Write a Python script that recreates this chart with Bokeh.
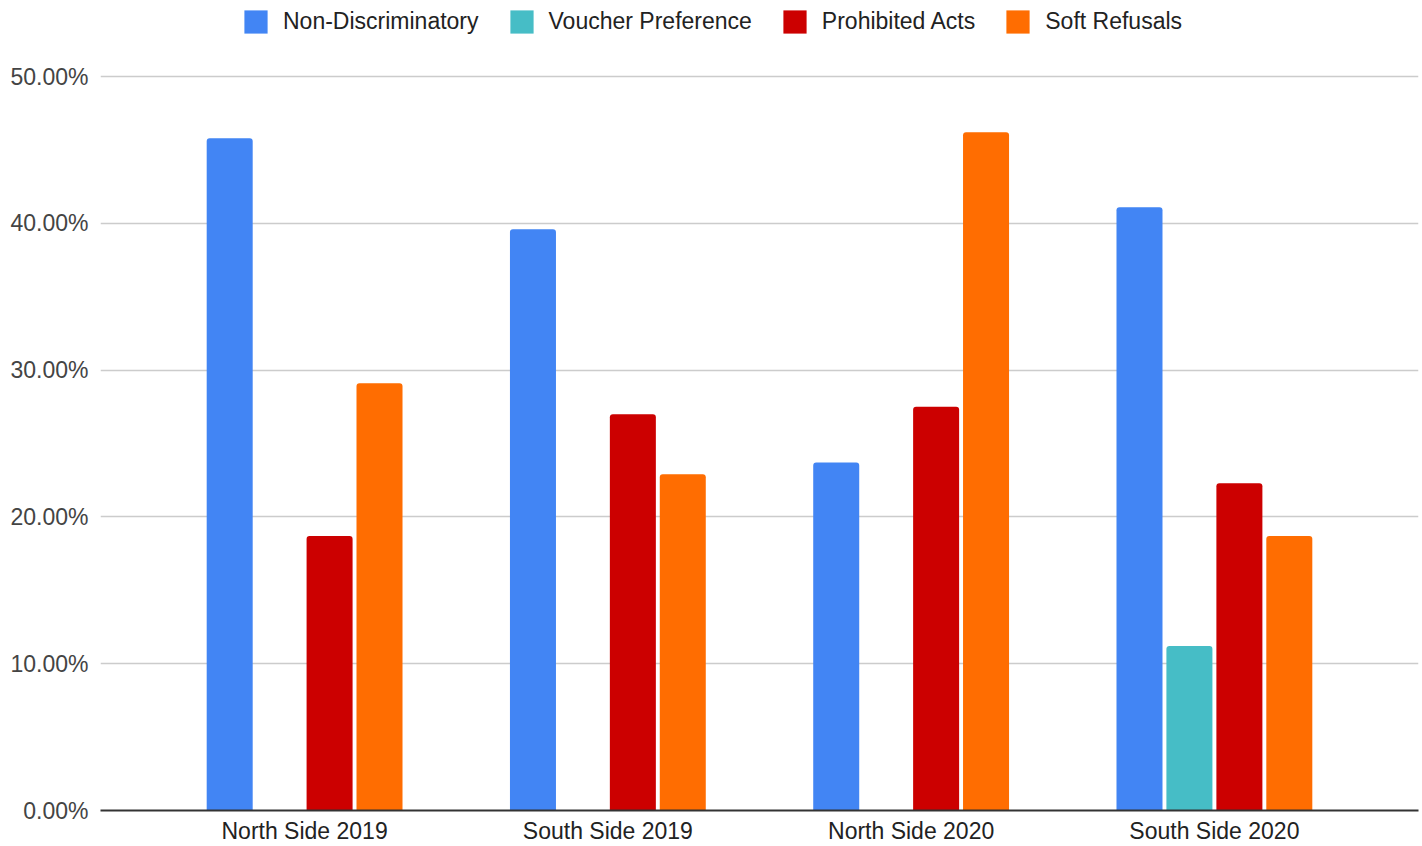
from bokeh.plotting import figure
from bokeh.models import (ColumnDataSource, FactorRange, Range1d, FixedTicker,
                          PrintfTickFormatter, Legend, LegendItem)
from bokeh.transform import dodge
from bokeh.embed import file_html
from bokeh.resources import INLINE

categories = ["North Side 2019", "South Side 2019", "North Side 2020", "South Side 2020"]
series = ["Non-Discriminatory", "Voucher Preference", "Prohibited Acts", "Soft Refusals"]
non_discriminatory = [45.8, 39.6, 23.7, 41.1]
voucher_preference = [0.0, 0.0, 0.0, 11.2]
prohibited_acts = [18.7, 27.0, 27.5, 22.3]
soft_refusals = [29.1, 22.9, 46.2, 18.7]
y_ticks = [0, 10, 20, 30, 40, 50]

colors = ["#4285F4", "#46BDC6", "#CC0000", "#FF6D01"]
offsets = [-0.247, -0.0824, 0.0824, 0.247]
FONT = "Liberation Sans"

source = ColumnDataSource(dict(
    cat=categories,
    s0=non_discriminatory,
    s1=voucher_preference,
    s2=prohibited_acts,
    s3=soft_refusals,
))

# frame spans the whole height above the x axis; the top band holds the legend
x_range = FactorRange(factors=categories, range_padding=0.173,
                      range_padding_units="absolute")
p = figure(width=1422, height=846, x_range=x_range, y_range=Range1d(0, 50 * 810 / 734),
           output_backend="svg", toolbar_location=None,
           min_border_left=100, min_border_right=4, min_border_top=0,
           min_border_bottom=30)

renderers = []
for i, key in enumerate(["s0", "s1", "s2", "s3"]):
    r = p.vbar(x=dodge("cat", offsets[i], range=p.x_range), top=key, width=0.1517,
               source=source, fill_color=colors[i], line_color=None,
               border_radius=(3, 3, 0, 0))
    renderers.append(r)

legend = Legend(items=[LegendItem(label=series[i], renderers=[renderers[i]])
                       for i in range(4)],
                orientation="horizontal", location=(141, 774),
                glyph_width=29, glyph_height=29, label_standoff=13, spacing=28,
                label_text_font=FONT, label_text_font_size="23px",
                label_text_color="#222222", border_line_color=None,
                background_fill_alpha=0, padding=6, margin=0)
p.add_layout(legend, "center")

p.outline_line_color = None
p.xgrid.grid_line_color = None
p.ygrid.grid_line_color = "#CCCCCC"
p.ygrid.grid_line_width = 1.5
p.yaxis.ticker = FixedTicker(ticks=y_ticks)
p.yaxis.formatter = PrintfTickFormatter(format="%.2f%%")
p.yaxis.axis_line_color = None
p.yaxis.major_tick_line_color = None
p.yaxis.minor_tick_line_color = None
p.yaxis.major_label_text_font = FONT
p.yaxis.major_label_text_font_size = "23px"
p.yaxis.major_label_text_color = "#444444"
p.yaxis.major_label_standoff = 6

p.xaxis.axis_line_color = "#333333"
p.xaxis.axis_line_width = 2
p.xaxis.major_tick_line_color = None
p.xaxis.minor_tick_line_color = None
p.xaxis.major_label_text_font = FONT
p.xaxis.major_label_text_font_size = "23px"
p.xaxis.major_label_text_color = "#222222"
p.xaxis.major_label_standoff = 1

open("out.html", "w").write(file_html(p, INLINE))
